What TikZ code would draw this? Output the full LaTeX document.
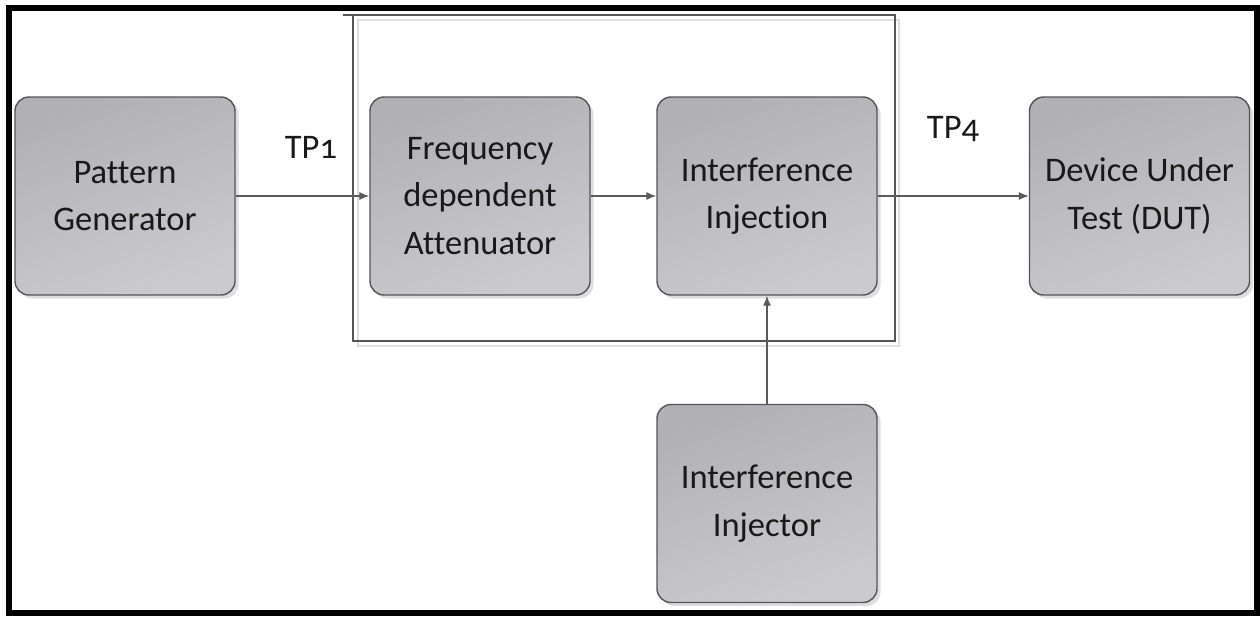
\documentclass[tikz,border=0pt]{standalone}
\usepackage{fontspec}
\setmainfont{Carlito}[Numbers=OldStyle, Ligatures=NoCommon]
\usetikzlibrary{arrows.meta,shadows}

\definecolor{boxtop}{RGB}{176,176,181}
\definecolor{boxbot}{RGB}{203,203,207}
\definecolor{boxline}{RGB}{85,85,88}
\definecolor{wire}{RGB}{90,90,94}
\definecolor{shadowgray}{RGB}{222,222,224}
\definecolor{ink}{RGB}{25,25,25}

\tikzset{
  block/.style={
    rounded corners=14pt, draw=boxline, line width=1.4pt,
    top color=boxtop, bottom color=boxbot, shading angle=20,
    general shadow={fill=shadowgray, shadow xshift=3.5pt, shadow yshift=-3.5pt},
    minimum width=220pt, minimum height=198pt, inner sep=0pt,
    align=center, text=ink,
    font=\fontsize{34.5}{47.5}\selectfont
  },
  flow/.style={draw=wire, line width=1.2pt, -{Latex[length=10pt,width=8pt]}},
  tplabel/.style={anchor=base, text=ink, inner sep=0pt,
    font=\fontsize{34.5}{40}\selectfont},
  frame/.style={draw=boxline, line width=1.3pt}
}

\begin{document}
\begin{tikzpicture}[x=1pt,y=-1pt]
  \useasboundingbox (0,0) rectangle (1260,616);
  \fill[white] (0,0) rectangle (1260,616);

  % enclosure around attenuator and injection stage
  \draw[draw=shadowgray, line width=1.3pt] (358,20) rectangle (899,346);
  \draw[frame] (353,15) rectangle (895,341);
  \draw[frame] (343,15) -- (353,15);

  % functional blocks
  \node[block] (pg)  at (125,196)    {Pattern\\Generator};
  \node[block] (fa)  at (480,196)    {Frequency\\dependent\\Attenuator};
  \node[block] (ii)  at (767,196)    {Interference\\Injection};
  \node[block] (dut) at (1139.5,196) {Device Under\\Test (DUT)};
  \node[block] (inj) at (767,503.5)  {Interference\\Injector};

  % signal path
  \draw[flow] (pg.east) -- (fa.west);
  \draw[flow] (fa.east) -- (ii.west);
  \draw[flow] (ii.east) -- (dut.west);
  \draw[flow] (inj.north) -- (ii.south);

  % test points
  \node[tplabel] (tp1) at (311,158) {TP1};
  \node[tplabel] (tp4) at (953,138) {TP4};

  % outer border
  \draw[black, line width=6pt] (9,8) rectangle (1257,613);
\end{tikzpicture}
\end{document}
